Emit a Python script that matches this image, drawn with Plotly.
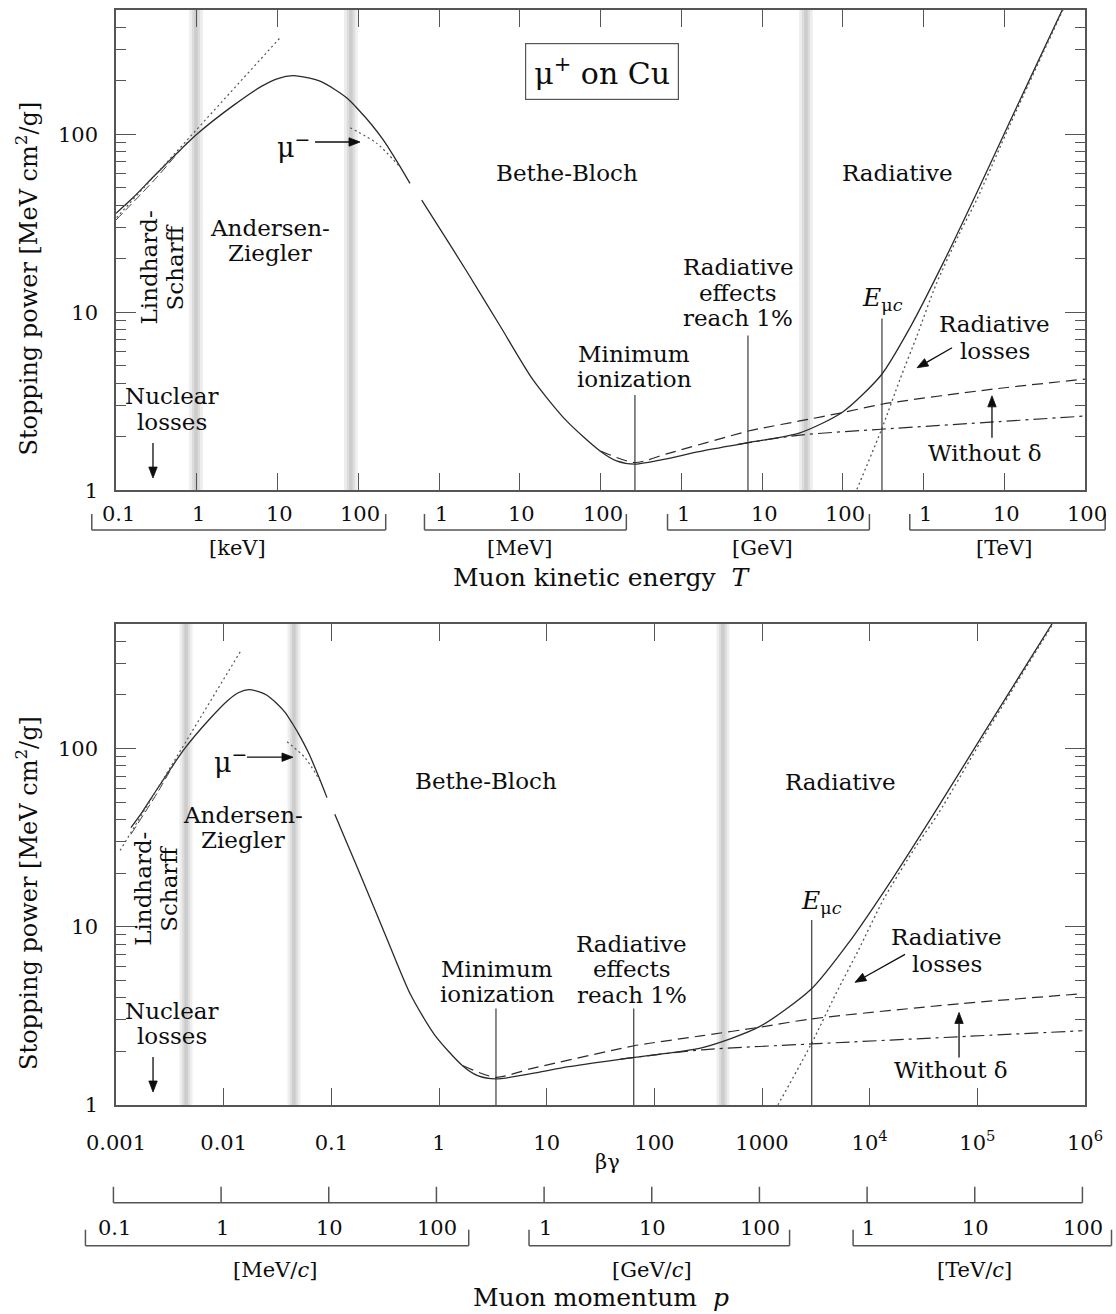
import numpy as np
import plotly.graph_objects as go

M_MU = 105.658  # muon mass [MeV/c^2]

# ---------------- data (T = kinetic energy [MeV], S = stopping power [MeV cm2/g]) ----------------
# solid curve, low-energy part (Lindhard-Scharff / Andersen-Ziegler)
T_low = [1.0e-4, 1.62e-4, 3.16e-4, 1.0e-3, 2.82e-3, 6.31e-3, 1.01e-2, 1.55e-2,
         2.51e-2, 3.36e-2, 5.01e-2, 7.24e-2, 0.1, 0.145, 0.204, 0.316, 0.437]
S_low = [36, 44, 60, 100, 145, 186, 206, 214, 207, 199, 180, 160, 138, 114, 93, 68, 53]

# solid curve, Bethe-Bloch + radiative part
T_bb = [0.611, 1.0, 2.2, 5.69, 14.7, 38.0, 98.6, 158, 267, 661, 1585, 6761,
        29512, 1.0e5, 3.03e5, 6.81e5, 1.76e6, 4.57e6, 1.175e7, 5.37e7, 6.31e7]
S_bb = [42.7, 30, 17, 8.4, 4.15, 2.45, 1.66, 1.46, 1.40, 1.50, 1.64, 1.85,
        2.10, 2.75, 4.47, 8.2, 19, 47, 118, 514, 600]

# dashed curve (ionization loss)
T_dash = [100, 267, 661, 6761, 9441, 29512, 1.0e5, 3.03e5, 7.33e6, 1.0e8]
S_dash = [1.66, 1.43, 1.60, 2.15, 2.22, 2.45, 2.73, 3.04, 3.70, 4.21]

# dash-dot curve (without delta)
T_dd = [5012, 29512, 3.03e5, 8.85e6, 1.0e8]
S_dd = [1.81, 2.04, 2.20, 2.43, 2.61]

# dotted curve (radiative losses)
T_rad = [1.26e5, 1.48e5, 3.03e5, 5.12e5, 8.22e5, 1.445e6, 2.82e6, 4.57e6, 1.175e7, 5.37e7, 6.31e7]
S_rad = [0.85, 1.0, 2.2, 4.2, 7.3, 14.5, 28, 43, 113, 505, 595]

# Lindhard-Scharff dotted line and dashed companion
T_ls = [6.3e-5, 1.07e-2]
S_ls = [26.8, 348]
T_lsd = [1.0e-4, 3.16e-4, 7.5e-4]
S_lsd = [33, 57, 90]

# mu- dotted branch
T_mum = [0.0794, 0.17, 0.324]
S_mum = [109, 89, 66]

# marked energies: minimum ionization, radiative effects reach 1%, E_muc
T_marks = [267, 6.7e3, 3.06e5]

# grey band centres
band_T = [9.8e-4, 8.1e-2, 3.5e4]      # top panel, T [MeV]
band_bg = [4.47e-3, 4.5e-2, 4.34e2]   # bottom panel, beta*gamma

# secondary scales
T_axis_vals = [1e-4, 1e-3, 1e-2, 1e-1, 1, 10, 100, 1e3, 1e4, 1e5, 1e6, 1e7, 1e8]
T_axis_text = ['0.1', '1', '10', '100', '1', '10', '100', '1', '10', '100', '1', '10', '100']
T_group_of = [0, 0, 0, 0, 1, 1, 1, 2, 2, 2, 3, 3, 3]
T_units = ['[keV]', '[MeV]', '[GeV]', '[TeV]']

p_axis_vals = [0.1, 1, 10, 100, 1e3, 1e4, 1e5, 1e6, 1e7, 1e8]  # MeV/c
p_axis_text = ['0.1', '1', '10', '100', '1', '10', '100', '1', '10', '100']
p_group_of = [0, 0, 0, 0, 1, 1, 1, 2, 2, 2]
p_units = ['[MeV/<i>c</i>]', '[GeV/<i>c</i>]', '[TeV/<i>c</i>]']

bg_ticks = [1e-3, 1e-2, 1e-1, 1, 10, 100, 1000, 1e4, 1e5, 1e6]
bg_ticktext = ['0.001', '0.01', '0.1', '1', '10', '100', '1000',
               '10<sup>4</sup>', '10<sup>5</sup>', '10<sup>6</sup>']

y_ticks = [1, 10, 100]
y_minor = [2, 3, 4, 5, 6, 7, 8, 9, 20, 30, 40, 50, 60, 70, 80, 90, 200, 300, 400]


def to_bg(T):
    T = np.asarray(T, dtype=float)
    return np.sqrt((1 + T / M_MU) ** 2 - 1)


# ---------------- figure ----------------
FONT = "DejaVu Serif"
INK = "#0d0d0d"
LINE = "#2a2a2a"
AX = "#555555"

W, H = 1116, 1314
ML, MR, MT, MB = 116, 31, 8, 209
PW, PH = W - ML - MR, H - MT - MB

TOP_RANGE = [-4, 8]
BOT_RANGE = [-3, 6]
Y_RANGE = [0, np.log10(500)]
DOM_TOP = [0.5615, 1.0]
DOM_BOT = [0.0, 0.4394]

fig = go.Figure()

curves = [
    (T_low, S_low, 'solid', LINE, 1.3),
    (T_bb, S_bb, 'solid', LINE, 1.3),
    (T_dash, S_dash, '11px,6px', LINE, 1.2),
    (T_dd, S_dd, '14px,5px,3px,5px', LINE, 1.2),
    (T_rad, S_rad, '2px,3px', '#555555', 1.3),
    (T_ls, S_ls, '2px,3px', '#555555', 1.2),
    (T_lsd, S_lsd, '9px,4px', '#444444', 1.0),
    (T_mum, S_mum, '2px,3px', '#555555', 1.2),
]
for T, S, dash, col, w in curves:
    fig.add_trace(go.Scatter(x=T, y=S, xaxis='x', yaxis='y', mode='lines',
                             line=dict(color=col, width=w, dash=dash, shape='spline', smoothing=0.7),
                             hoverinfo='skip', showlegend=False))
    fig.add_trace(go.Scatter(x=to_bg(T), y=S, xaxis='x2', yaxis='y2', mode='lines',
                             line=dict(color=col, width=w, dash=dash, shape='spline', smoothing=0.7),
                             hoverinfo='skip', showlegend=False))

shapes = []
annotations = []

# grey bands
for centres, xr, yr, hws in [(band_T, 'x', 'y domain', (0.085, 0.05, 0.022)),
                             (band_bg, 'x2', 'y2 domain', (0.06, 0.036, 0.016))]:
    for c in centres:
        for hw in hws:
            shapes.append(dict(type='rect', xref=xr, yref=yr, x0=c * 10 ** (-hw), x1=c * 10 ** hw,
                               y0=0, y1=1, fillcolor='rgba(0,0,0,0.07)', line=dict(width=0), layer='below'))

# marker vertical lines
bg_marks = to_bg(T_marks)
for xv, ytop in zip(T_marks, [3.43, 7.39, 9.21]):
    shapes.append(dict(type='line', xref='x', yref='y', x0=xv, x1=xv, y0=1, y1=ytop,
                       line=dict(color=LINE, width=1.1)))
for xv, ytop in zip(bg_marks, [3.48, 3.48, 10.9]):
    shapes.append(dict(type='line', xref='x2', yref='y2', x0=xv, x1=xv, y0=1, y1=ytop,
                       line=dict(color=LINE, width=1.1)))


def txt(text, x, y, xref, yref, size=23, **kw):
    d = dict(text=text, x=x, y=y, xref=xref, yref=yref, showarrow=False,
             xanchor='center', yanchor='middle',
             font=dict(family=FONT, size=size, color=INK))
    d.update(kw)
    return d


def lines(parts, x, y, xref, yref, spacing=25.5, size=23, rotated=False):
    n = len(parts)
    out = []
    for i, p in enumerate(parts):
        off = ((n - 1) / 2 - i) * spacing
        if rotated:
            out.append(txt(p, x, y, xref, yref, size=size, textangle=-90, xshift=-off))
        else:
            out.append(txt(p, x, y, xref, yref, size=size, yshift=off))
    return out


def arrow_shapes(panel, lx, ly, dx, dy, head_len=11, head_w=4.2):
    """Arrow whose head sits at log-coordinates (lx, ly) of a panel; tail offset (dx, dy) in screen px."""
    rng = TOP_RANGE if panel == 0 else BOT_RANGE
    dom = DOM_TOP if panel == 0 else DOM_BOT
    hx = (lx - rng[0]) / (rng[1] - rng[0]) * PW
    hy = (dom[0] + (ly - Y_RANGE[0]) / (Y_RANGE[1] - Y_RANGE[0]) * (dom[1] - dom[0])) * PH
    tx, ty = hx + dx, hy - dy
    ux, uy = hx - tx, hy - ty
    n = np.hypot(ux, uy)
    ux, uy = ux / n, uy / n
    bx, by = hx - ux * head_len, hy - uy * head_len
    px_, py_ = -uy * head_w, ux * head_w
    pts = [(hx, hy), (bx + px_, by + py_), (bx - px_, by - py_)]
    path = 'M ' + ' L '.join(f'{x / PW:.5f},{y / PH:.5f}' for x, y in pts) + ' Z'
    return [
        dict(type='line', xref='paper', yref='paper', x0=tx / PW, y0=ty / PH, x1=bx / PW, y1=by / PH,
             line=dict(color=INK, width=1.3)),
        dict(type='path', xref='paper', yref='paper', path=path, fillcolor=INK, line=dict(color=INK, width=0.8)),
    ]


# ---- top panel texts (log10 coordinates) ----
annotations.append(txt('μ<sup>+</sup> on Cu', 2.019, 2.352, 'x', 'y', size=30,
                       bordercolor=AX, borderwidth=1.2, borderpad=8, bgcolor='white'))
annotations.append(txt('Bethe-Bloch', 1.585, 1.782, 'x', 'y'))
annotations.append(txt('Radiative', 5.684, 1.782, 'x', 'y'))
annotations += lines(['Lindhard-', 'Scharff'], -3.43, 1.252, 'x', 'y', spacing=26, rotated=True)
annotations += lines(['Andersen-', 'Ziegler'], -2.093, 1.404, 'x', 'y')
annotations += lines(['Nuclear', 'losses'], -3.307, 0.457, 'x', 'y')
annotations += lines(['Minimum', 'ionization'], 2.415, 0.694, 'x', 'y')
annotations += lines(['Radiative', 'effects', 'reach 1%'], 3.703, 1.111, 'x', 'y')
annotations.append(txt('<i>E</i><sub>μ<i>c</i></sub>', 5.498, 1.077, 'x', 'y', size=25))
annotations += lines(['Radiative', 'losses'], 6.885, 0.857, 'x', 'y', spacing=27)
annotations.append(txt('Without δ', 6.76, 0.209, 'x', 'y'))
annotations.append(txt('μ<sup>−</sup>', -1.796, 1.94, 'x', 'y', size=27))
shapes += arrow_shapes(0, -0.978, 1.957, -45, 0)
shapes += arrow_shapes(0, -3.542, 0.068, 0, -35)
shapes += arrow_shapes(0, 5.92, 0.688, 35, -20)
shapes += arrow_shapes(0, 6.848, 0.530, 0, 42)

# ---- bottom panel texts ----
annotations.append(txt('Bethe-Bloch', 0.436, 1.816, 'x2', 'y2'))
annotations.append(txt('Radiative', 3.733, 1.81, 'x2', 'y2'))
annotations += lines(['Lindhard-', 'Scharff'], -2.628, 1.213, 'x2', 'y2', spacing=26, rotated=True)
annotations += lines(['Andersen-', 'Ziegler'], -1.82, 1.557, 'x2', 'y2')
annotations += lines(['Nuclear', 'losses'], -2.48, 0.457, 'x2', 'y2')
annotations.append(txt('μ<sup>−</sup>', -1.941, 1.935, 'x2', 'y2', size=27))
annotations += lines(['Minimum', 'ionization'], 0.539, 0.694, 'x2', 'y2')
annotations += lines(['Radiative', 'effects', 'reach 1%'], 1.792, 0.761, 'x2', 'y2')
annotations.append(txt('<i>E</i><sub>μ<i>c</i></sub>', 3.548, 1.139, 'x2', 'y2', size=25))
annotations += lines(['Radiative', 'losses'], 4.718, 0.869, 'x2', 'y2', spacing=27)
annotations.append(txt('Without δ', 4.755, 0.197, 'x2', 'y2'))
shapes += arrow_shapes(1, -1.356, 1.951, -46, 0)
shapes += arrow_shapes(1, -2.656, 0.073, 0, -35)
shapes += arrow_shapes(1, 3.864, 0.688, 50, -28)
shapes += arrow_shapes(1, 4.83, 0.519, 0, 45)

# y-axis titles
ytitle = 'Stopping power [MeV cm<sup>2</sup>/g]'
annotations += [
    txt(ytitle, -0.0918, 0.7548, 'paper', 'paper', size=24, textangle=-90),
    txt(ytitle, -0.0918, 0.1937, 'paper', 'paper', size=24, textangle=-90),
]


def paper_x(v, rng):
    return (np.log10(v) - rng[0]) / (rng[1] - rng[0])


BR = dict(color=AX, width=1.5)

# ---- kinetic energy bracket scale (below top panel) ----
T_pads = [(0.30, 0.34), (0.18, 0.32), (0.17, 0.33), (0.17, 0.25)]
for v, t in zip(T_axis_vals, T_axis_text):
    annotations.append(txt(t, paper_x(v, TOP_RANGE), 0.5397, 'paper', 'paper', size=21, xshift=2))
for g, unit in enumerate(T_units):
    vals = [v for v, gg in zip(T_axis_vals, T_group_of) if gg == g]
    a, b = paper_x(vals[0], TOP_RANGE), paper_x(vals[-1], TOP_RANGE)
    xl = a - T_pads[g][0] / 12
    xr = b + T_pads[g][1] / 12
    y_top, y_bot = 0.5397, 0.5251
    shapes += [
        dict(type='line', xref='paper', yref='paper', x0=xl, x1=xl, y0=y_top, y1=y_bot, line=BR),
        dict(type='line', xref='paper', yref='paper', x0=xl, x1=xr, y0=y_bot, y1=y_bot, line=BR),
        dict(type='line', xref='paper', yref='paper', x0=xr, x1=xr, y0=y_top, y1=y_bot, line=BR),
    ]
    annotations.append(txt(unit, (a + b) / 2, 0.5087, 'paper', 'paper', size=21))
annotations.append(txt('Muon kinetic energy  <i>T</i>', 0.5015, 0.4813, 'paper', 'paper', size=25))

# ---- beta*gamma title ----
annotations.append(txt('βγ', 0.5077, -0.052, 'paper', 'paper', size=21))

# ---- momentum scale (below bottom panel) ----
p_bg = np.asarray(p_axis_vals) / M_MU
y_line, y_tick = -0.0893, -0.0747
shapes.append(dict(type='line', xref='paper', yref='paper', x0=paper_x(p_bg[0], BOT_RANGE),
                   x1=paper_x(p_bg[-1], BOT_RANGE), y0=y_line, y1=y_line, line=BR))
for v in p_bg:
    px = paper_x(v, BOT_RANGE)
    shapes.append(dict(type='line', xref='paper', yref='paper', x0=px, x1=px, y0=y_line, y1=y_tick, line=BR))
for v, t in zip(p_bg, p_axis_text):
    annotations.append(txt(t, paper_x(v, BOT_RANGE), -0.1121, 'paper', 'paper', size=21, xshift=1))
p_pads = [(0.26, 0.30), (0.14, 0.28), (0.13, 0.27)]
for g, unit in enumerate(p_units):
    vals = [v for v, gg in zip(p_bg, p_group_of) if gg == g]
    a, b = paper_x(vals[0], BOT_RANGE), paper_x(vals[-1], BOT_RANGE)
    xl = a - p_pads[g][0] / 9
    xr = b + p_pads[g][1] / 9
    y_top, y_bot = -0.1139, -0.1285
    shapes += [
        dict(type='line', xref='paper', yref='paper', x0=xl, x1=xl, y0=y_top, y1=y_bot, line=BR),
        dict(type='line', xref='paper', yref='paper', x0=xl, x1=xr, y0=y_bot, y1=y_bot, line=BR),
        dict(type='line', xref='paper', yref='paper', x0=xr, x1=xr, y0=y_top, y1=y_bot, line=BR),
    ]
    annotations.append(txt(unit, (a + b) / 2, -0.1504, 'paper', 'paper', size=21))
annotations.append(txt('Muon momentum  <i>p</i>', 0.5005, -0.1759, 'paper', 'paper', size=25))

common_x = dict(type='log', showline=True, linecolor=AX, linewidth=1.5, mirror='ticks',
                ticks='inside', ticklen=17, tickwidth=1.2, tickcolor=AX,
                showgrid=False, zeroline=False)
common_y = dict(type='log', range=Y_RANGE, showline=True, linecolor=AX, linewidth=1.5, mirror='ticks',
                ticks='inside', ticklen=20, tickwidth=1.2, tickcolor=AX,
                tickmode='array', tickvals=y_ticks, ticktext=[str(v) for v in y_ticks],
                tickfont=dict(family=FONT, size=21, color=INK), ticklabelstandoff=12,
                minor=dict(ticks='inside', ticklen=10, tickwidth=1.2, tickcolor=AX,
                           tickmode='array', tickvals=y_minor, showgrid=False),
                showgrid=False, zeroline=False)

fig.update_layout(
    width=W, height=H,
    margin=dict(l=ML, r=MR, t=MT, b=MB),
    paper_bgcolor='white', plot_bgcolor='white',
    xaxis=dict(common_x, range=TOP_RANGE, domain=[0, 1], anchor='y',
               tickmode='array', tickvals=T_axis_vals, showticklabels=False),
    yaxis=dict(common_y, domain=DOM_TOP, anchor='x'),
    xaxis2=dict(common_x, range=BOT_RANGE, domain=[0, 1], anchor='y2',
                tickmode='array', tickvals=bg_ticks, ticktext=bg_ticktext,
                tickfont=dict(family=FONT, size=21, color=INK), ticklabelstandoff=18),
    yaxis2=dict(common_y, domain=DOM_BOT, anchor='x2'),
    shapes=shapes,
    annotations=annotations,
    showlegend=False,
)

fig.write_html("out.html")
